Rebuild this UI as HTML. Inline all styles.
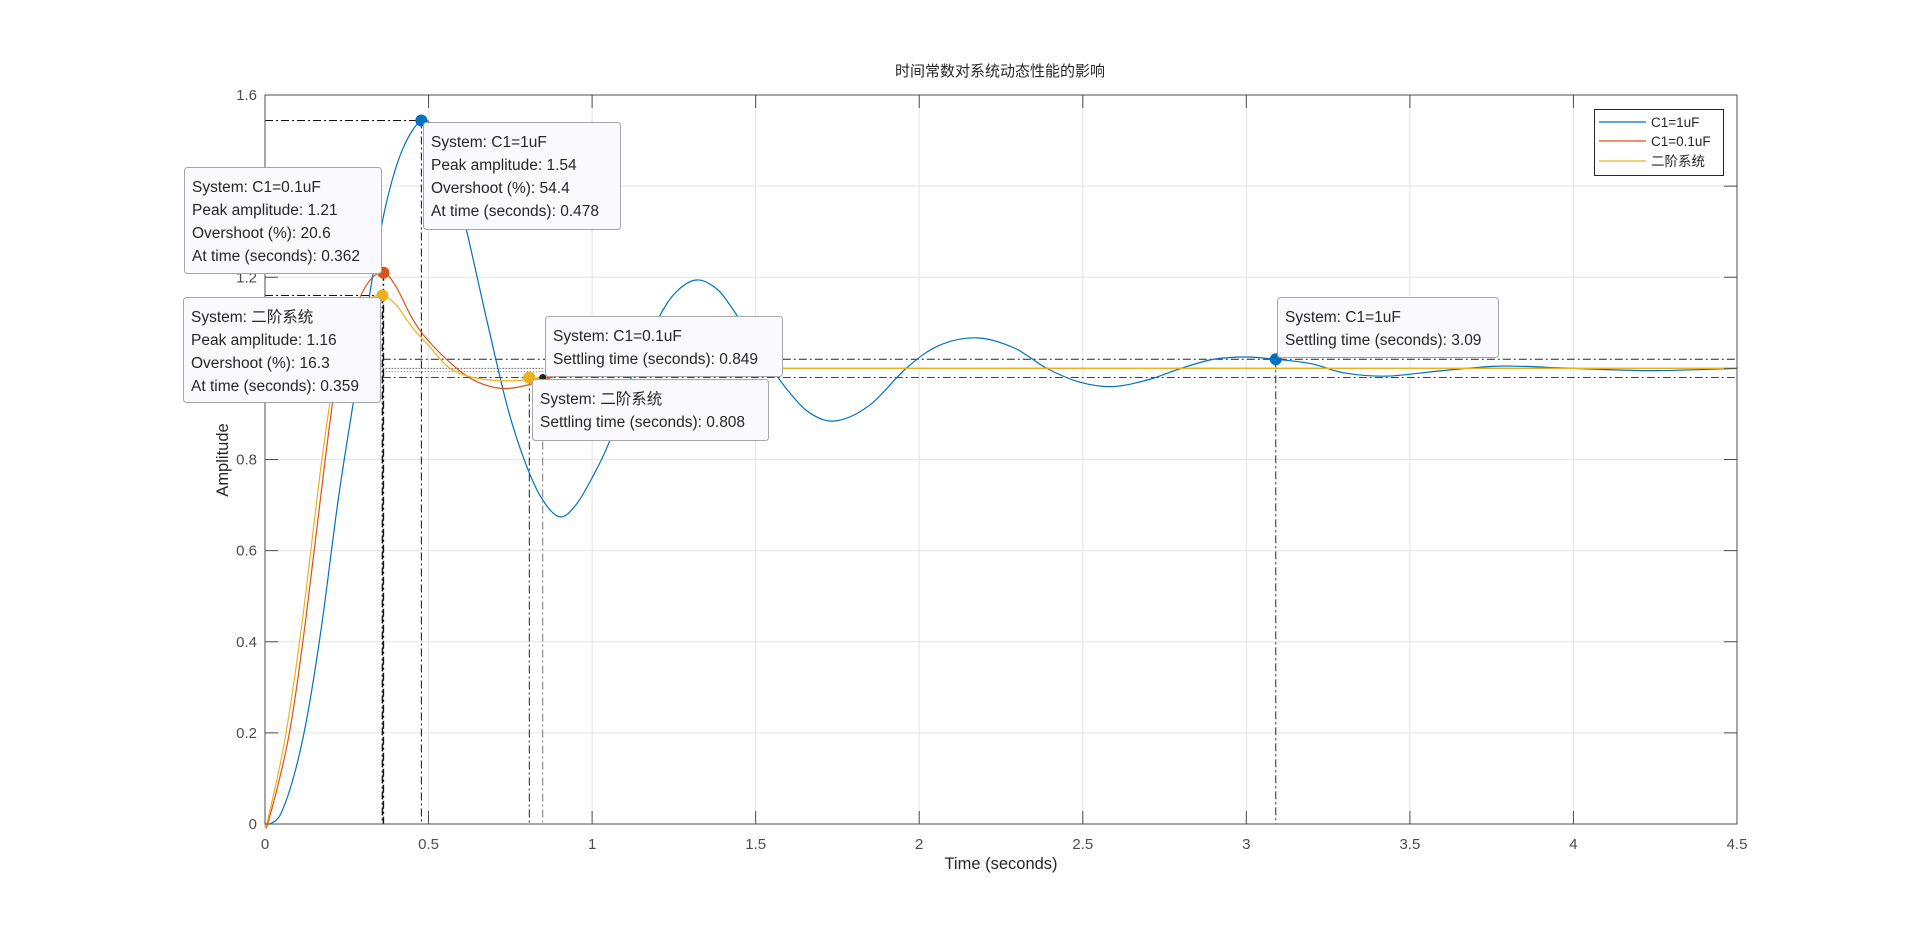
<!DOCTYPE html>
<html><head><meta charset="utf-8">
<style>
html,body{margin:0;padding:0;background:#fff;width:1920px;height:927px;overflow:hidden}
svg{display:block;font-family:"Liberation Sans","Noto Sans CJK SC",sans-serif}
</style></head>
<body>
<svg id="chart" width="1920" height="927" viewBox="0 0 1920 927"></svg>
<script>
const seriesNames = ["C1=1uF","C1=0.1uF","二阶系统"];
const seriesColors = ["#0072BD","#D95319","#EDB120"];
const blueT = [0,0.02,0.05,0.093,0.13,0.174,0.225,0.276,0.327,0.37,0.42,0.478,0.52,0.57,0.617,0.68,0.743,0.80,0.85,0.902,0.95,1.0,1.055,1.13,1.208,1.26,1.32,1.38,1.43,1.52,1.6,1.67,1.748,1.85,1.96,2.06,2.176,2.29,2.39,2.49,2.59,2.7,2.8,2.9,3.0,3.09,3.2,3.3,3.43,3.6,3.78,4.0,4.24,4.5];
const blueV = [0,0.002,0.025,0.118,0.24,0.44,0.718,0.953,1.194,1.36,1.48,1.544,1.52,1.43,1.30,1.10,0.91,0.785,0.71,0.674,0.70,0.76,0.843,1.0,1.117,1.17,1.194,1.175,1.13,1.03,0.95,0.90,0.885,0.92,1.0,1.05,1.067,1.045,1.0,0.97,0.96,0.975,1.0,1.02,1.025,1.02,1.01,0.99,0.983,0.995,1.005,1.0,0.995,1.0];
const orangeT = [0,0.011,0.072,0.123,0.184,0.225,0.27,0.317,0.362,0.40,0.45,0.50,0.586,0.65,0.724,0.80,0.9,1.0,1.2,1.5,2.5,3.5,4.5];
const orangeV = [0,0.007,0.19,0.44,0.80,1.01,1.12,1.19,1.21,1.18,1.11,1.06,1.0,0.97,0.956,0.963,0.985,0.998,1.003,1.0,1.0,1.0,1.0];
const yellowT = [0,0.008,0.062,0.113,0.174,0.22,0.27,0.315,0.359,0.40,0.45,0.50,0.566,0.65,0.758,0.85,1.0,1.2,1.5,2.5,3.5,4.5];
const yellowV = [0,0.008,0.19,0.44,0.80,1.01,1.11,1.15,1.16,1.14,1.09,1.05,1.0,0.978,0.973,0.98,0.995,1.0,1.0,1.0,1.0,1.0];
const xTicks = [0,0.5,1,1.5,2,2.5,3,3.5,4,4.5];
const xTickLabels = ["0","0.5","1","1.5","2","2.5","3","3.5","4","4.5"];
const yTicks = [0,0.2,0.4,0.6,0.8,1,1.2,1.4,1.6];
const yTickLabels = ["0","0.2","0.4","0.6","0.8","1","1.2","1.4","1.6"];
const peakT = [0.478,0.362,0.359];
const peakV = [1.544,1.21,1.16];
const settleT = [3.09,0.849,0.808];
const settleV = [1.02,0.98,0.98];

const L=265,R=1737,T=95,B=824;
const X=t=>L+(t/4.5)*(R-L);
const Y=v=>B-(v/1.6)*(B-T);
const NS="http://www.w3.org/2000/svg";
const svg=document.getElementById('chart');
function mk(tag,attrs,parent){const e=document.createElementNS(NS,tag);for(const k in attrs)e.setAttribute(k,attrs[k]);(parent||svg).appendChild(e);return e;}

for(let i=0;i<xTicks.length;i++){
  const g=mk('line',{x1:X(xTicks[i]),x2:X(xTicks[i]),y1:T,y2:B,stroke:'#e3e3e3','stroke-width':1});
  
  
}
for(let i=0;i<yTicks.length;i++){
  const g=mk('line',{x1:L,x2:R,y1:Y(yTicks[i]),y2:Y(yTicks[i]),stroke:'#e3e3e3','stroke-width':1});
  
  
}
const dashdot='8,3,2,3';
const band1=mk('line',{x1:X(0.36),x2:R,y1:Y(1.02),y2:Y(1.02),stroke:'#222','stroke-width':1,'stroke-dasharray':dashdot});


const band2=mk('line',{x1:X(0.36),x2:R,y1:Y(0.98),y2:Y(0.98),stroke:'#444','stroke-width':1,'stroke-dasharray':dashdot});


const band3=mk('line',{x1:X(0.36),x2:X(0.849),y1:Y(1.0),y2:Y(1.0),stroke:'#444','stroke-width':1,'stroke-dasharray':'1,2'});


const band4=mk('line',{x1:X(0.36),x2:X(0.849),y1:Y(0.993),y2:Y(0.993),stroke:'#666','stroke-width':1,'stroke-dasharray':'1,2'});



for(let i=0;i<peakT.length;i++){
  const h=mk('line',{x1:L,x2:X(peakT[i]),y1:Y(peakV[i]),y2:Y(peakV[i]),stroke:'#111','stroke-width':1,'stroke-dasharray':dashdot});
  
  
  const v=mk('line',{x1:X(peakT[i]),x2:X(peakT[i]),y1:Y(peakV[i]),y2:B,stroke:'#111','stroke-width':i===0?1:1.5,'stroke-dasharray':dashdot});
  
  
}
for(let i=0;i<settleT.length;i++){
  const v=mk('line',{x1:X(settleT[i]),x2:X(settleT[i]),y1:Y(settleV[i]),y2:B,stroke:i===1?'#777':'#222','stroke-width':1,'stroke-dasharray':dashdot});
  
  
}

function pathFrom(ts,vs){
  const p=ts.map((t,i)=>[X(t),Y(vs[i])]);
  let d='M'+p[0][0]+','+p[0][1];
  for(let i=0;i<p.length-1;i++){
    const p0=p[Math.max(i-1,0)],p1=p[i],p2=p[i+1],p3=p[Math.min(i+2,p.length-1)];
    const c1=[p1[0]+(p2[0]-p0[0])/6,p1[1]+(p2[1]-p0[1])/6];
    const c2=[p2[0]-(p3[0]-p1[0])/6,p2[1]-(p3[1]-p1[1])/6];
    d+=' C'+c1[0]+','+c1[1]+' '+c2[0]+','+c2[1]+' '+p2[0]+','+p2[1];
  }
  return d;
}
const series=[[blueT,blueV],[orangeT,orangeV],[yellowT,yellowV]];
for(let s=0;s<3;s++){
  const pth=mk('path',{d:pathFrom(series[s][0],series[s][1]),fill:'none',stroke:seriesColors[s],'stroke-width':1.2});
  
  
}
for(let i=0;i<peakT.length;i++){
  const c=mk('circle',{cx:X(peakT[i]),cy:Y(peakV[i]),r:6,fill:seriesColors[i]});
  
  
}
const settleColors=[seriesColors[0],'#222',seriesColors[2]];
const settleR=[6,3.5,6];
for(let i=0;i<settleT.length;i++){
  const c=mk('circle',{cx:X(settleT[i]),cy:Y(settleV[i]),r:settleR[i],fill:settleColors[i]});
  
  
}

const box=mk('rect',{x:L,y:T,width:R-L,height:B-T,fill:'none',stroke:'#4d4d4d','stroke-width':1});


for(let i=0;i<xTicks.length;i++){
  const x=X(xTicks[i]);
  const t1=mk('line',{x1:x,x2:x,y1:B,y2:B-13,stroke:'#4d4d4d'});
  
  
  const t2=mk('line',{x1:x,x2:x,y1:T,y2:T+13,stroke:'#4d4d4d'});
  
  
  const lb=mk('text',{x:x,y:849,'text-anchor':'middle','font-size':15,fill:'#4d4d4d'});
  lb.textContent=xTickLabels[i];
  
  
}
for(let i=0;i<yTicks.length;i++){
  const y=Y(yTicks[i]);
  const t1=mk('line',{x1:L,x2:L+13,y1:y,y2:y,stroke:'#4d4d4d'});
  
  
  const t2=mk('line',{x1:R,x2:R-13,y1:y,y2:y,stroke:'#4d4d4d'});
  
  
  const lb=mk('text',{x:257,y:y+5,'text-anchor':'end','font-size':15,fill:'#4d4d4d'});
  lb.textContent=yTickLabels[i];
  
  
}

const tips=[
  [423,122,197,107,["System: C1=1uF","Peak amplitude: 1.54","Overshoot (%): 54.4","At time (seconds): 0.478"]],
  [184,167,197,106,["System: C1=0.1uF","Peak amplitude: 1.21","Overshoot (%): 20.6","At time (seconds): 0.362"]],
  [183,297,197,105,["System: 二阶系统","Peak amplitude: 1.16","Overshoot (%): 16.3","At time (seconds): 0.359"]],
  [545,316,237,60,["System: C1=0.1uF","Settling time (seconds): 0.849"]],
  [532,379,236,61,["System: 二阶系统","Settling time (seconds): 0.808"]],
  [1277,297,221,60,["System: C1=1uF","Settling time (seconds): 3.09"]]
];
for(const tp of tips){
  const g=mk('g',{});
  
  
  mk('rect',{x:tp[0]+0.5,y:tp[1]+0.5,width:tp[2],height:tp[3],rx:3,fill:'#f9f9fe',stroke:'#a6a6a6','stroke-width':1},g);
  tp[4].forEach((s,k)=>{
    const tx=mk('text',{x:tp[0]+8,y:tp[1]+25+k*23,'font-size':15.5,fill:'#262626'},g);
    tx.textContent=s;
    
    
  });
}

const lg=mk('g',{});


mk('rect',{x:1594.5,y:109.5,width:129,height:66,fill:'#fff',stroke:'#262626','stroke-width':1},lg);
const lys=[122,141,161];
for(let i=0;i<3;i++){
  const ln=mk('line',{x1:1599,x2:1646,y1:lys[i],y2:lys[i],stroke:seriesColors[i],'stroke-width':1.2},lg);
  
  
  const tx=mk('text',{x:1651,y:lys[i]+5,'font-size':13.5,fill:'#262626'},lg);
  tx.textContent=seriesNames[i];
  
  
}

const ttl=mk('text',{x:1000,y:76,'text-anchor':'middle','font-size':15,fill:'#262626'});
ttl.textContent='时间常数对系统动态性能的影响';


const xl=mk('text',{x:1001,y:869,'text-anchor':'middle','font-size':16.5,fill:'#262626'});
xl.textContent='Time (seconds)';


const yl=mk('text',{x:0,y:0,'text-anchor':'middle','font-size':16.5,fill:'#262626',transform:'translate(228,460) rotate(-90)'});
yl.textContent='Amplitude';


</script>
</body></html>
